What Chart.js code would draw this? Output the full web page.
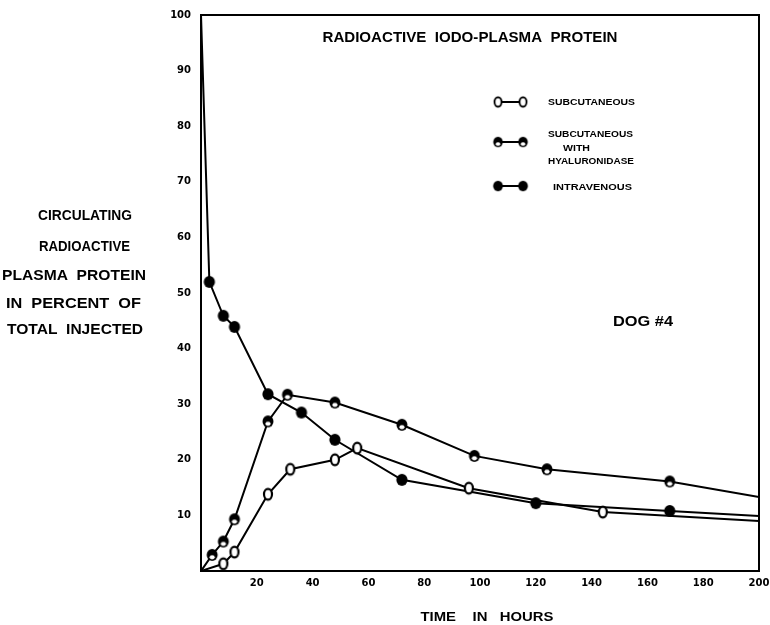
<!DOCTYPE html>
<html>
<head>
<meta charset="utf-8">
<script src="https://cdn.jsdelivr.net/npm/chart.js@4.4.0/dist/chart.umd.min.js"></script>
<style>
  html, body { margin: 0; padding: 0; background: #fff; }
  canvas { display: block; }
</style>
</head>
<body>
<canvas id="chart" width="770" height="625"></canvas>
<script>
// values: time in hours, percent of injected dose
const timeSubcut = [0, 8, 12, 24, 32, 48, 56, 96, 144, 200];
const pctSubcut  = [0, 1.3, 3.4, 13.8, 18.3, 20.0, 22.1, 14.9, 10.6, 9.0];

const timeHyal = [0, 4, 8, 12, 24, 31, 48, 72, 98, 124, 168, 200];
const pctHyal  = [0, 2.9, 5.3, 9.3, 26.9, 31.7, 30.3, 26.3, 20.7, 18.3, 16.1, 13.3];

const timeIV = [0, 3, 8, 12, 24, 36, 48, 72, 120, 168, 200];
const pctIV  = [100, 52.0, 45.9, 43.9, 31.8, 28.5, 23.6, 16.4, 12.2, 10.8, 9.9];

const xTicks = [20, 40, 60, 80, 100, 120, 140, 160, 180, 200];
const yTicks = [10, 20, 30, 40, 50, 60, 70, 80, 90, 100];

function marker(kind) {
  const c = document.createElement('canvas');
  c.width = 16; c.height = 16;
  const g = c.getContext('2d');
  g.beginPath();
  if (kind === 'open') {
    g.ellipse(8, 8, 4, 5.3, 0, 0, Math.PI * 2);
    g.fillStyle = '#fff'; g.fill();
    g.lineWidth = 2.2; g.strokeStyle = '#000'; g.stroke();
  } else if (kind === 'half') {
    g.ellipse(8, 8, 5.5, 6, 0, 0, Math.PI * 2);
    g.fillStyle = '#000'; g.fill();
    g.beginPath();
    g.ellipse(8, 10.3, 2.6, 2.1, 0, 0, Math.PI * 2);
    g.fillStyle = '#fff'; g.fill();
  } else {
    g.ellipse(8, 8, 5.6, 6, 0, 0, Math.PI * 2);
    g.fillStyle = '#000'; g.fill();
  }
  return c;
}

const mOpen = marker('open');
const mHalf = marker('half');
const mFull = marker('full');

function pts(xs, ys) { return xs.map((x, i) => ({x: x, y: ys[i]})); }
// no marker at the origin / the 100% start / the line run-out at the right edge
function radii(xs) { return xs.map(x => (x === 0 || x === 200) ? 0 : 6); }

function fitText(ctx, str, cx, cy, w, h) {
  ctx.save();
  ctx.font = 'bold 20px "Liberation Sans"';
  const mw = ctx.measureText(str).width;
  ctx.translate(cx, cy + h / 2);
  ctx.scale(w / mw, h / 14.3);
  ctx.textAlign = 'center';
  ctx.textBaseline = 'alphabetic';
  ctx.fillStyle = '#000';
  ctx.fillText(str, 0, 0);
  ctx.restore();
}

function legendRow(ctx, img, y) {
  ctx.save();
  ctx.strokeStyle = '#000';
  ctx.lineWidth = 2;
  ctx.beginPath();
  ctx.moveTo(498, y); ctx.lineTo(523, y);
  ctx.stroke();
  ctx.drawImage(img, 498 - 7, y - 7, 14, 14);
  ctx.drawImage(img, 523 - 7, y - 7, 14, 14);
  ctx.restore();
}

const decor = {
  id: 'decor',
  beforeDraw(chart) {
    const ctx = chart.ctx;
    ctx.save();
    ctx.fillStyle = '#fff';
    ctx.fillRect(0, 0, chart.width, chart.height);
    ctx.restore();
  },
  afterDraw(chart) {
    const ctx = chart.ctx;
    const a = chart.chartArea;
    // top and right edges of the frame
    ctx.save();
    ctx.strokeStyle = '#000';
    ctx.lineWidth = 2;
    ctx.beginPath();
    ctx.moveTo(a.left, a.top); ctx.lineTo(a.right, a.top); ctx.lineTo(a.right, a.bottom);
    ctx.stroke();
    ctx.restore();

    fitText(ctx, 'RADIOACTIVE  IODO-PLASMA  PROTEIN', 470, 37, 295, 10);

    fitText(ctx, 'CIRCULATING', 85, 215, 94, 10);
    fitText(ctx, 'RADIOACTIVE', 84.5, 246, 91, 10);
    fitText(ctx, 'PLASMA  PROTEIN', 74, 275, 144, 10);
    fitText(ctx, 'IN  PERCENT  OF', 73.5, 303, 135, 10);
    fitText(ctx, 'TOTAL  INJECTED', 75, 329, 136, 10);

    fitText(ctx, 'TIME    IN   HOURS', 487, 616, 133, 9.5);
    fitText(ctx, 'DOG #4', 643, 320, 60, 11);

    legendRow(ctx, mOpen, 102);
    legendRow(ctx, mHalf, 142);
    legendRow(ctx, mFull, 186);
    fitText(ctx, 'SUBCUTANEOUS', 591.5, 101, 87, 7);
    fitText(ctx, 'SUBCUTANEOUS', 590.5, 133, 85, 7);
    fitText(ctx, 'WITH', 576.5, 147, 27, 7);
    fitText(ctx, 'HYALURONIDASE', 591, 160, 86, 7);
    fitText(ctx, 'INTRAVENOUS', 592.5, 186, 79, 7);
  }
};

const tickFont = {family: 'DejaVu Sans', weight: 'bold', size: 10};

new Chart(document.getElementById('chart'), {
  type: 'line',
  data: {
    datasets: [{
      label: 'SUBCUTANEOUS',
      data: pts(timeSubcut, pctSubcut),
      pointStyle: mOpen,
      pointRadius: radii(timeSubcut),
    }, {
      label: 'SUBCUTANEOUS WITH HYALURONIDASE',
      data: pts(timeHyal, pctHyal),
      pointStyle: mHalf,
      pointRadius: radii(timeHyal),
    }, {
      label: 'INTRAVENOUS',
      data: pts(timeIV, pctIV),
      pointStyle: mFull,
      pointRadius: radii(timeIV),
    }]
  },
  options: {
    responsive: false,
    animation: false,
    devicePixelRatio: 1,
    layout: {padding: {top: 15, right: 11, left: 0, bottom: 0}},
    elements: {
      line: {borderColor: '#000', borderWidth: 2, tension: 0, fill: false},
      point: {hoverRadius: 6}
    },
    plugins: {legend: {display: false}, tooltip: {enabled: false}},
    scales: {
      x: {
        type: 'linear', min: 0, max: 200,
        afterBuildTicks: s => { s.ticks = xTicks.map(v => ({value: v})); },
        afterFit: s => { s.height = 54; s.paddingRight = 0; s.paddingLeft = 0; },
        grid: {display: false, drawTicks: false},
        border: {display: true, color: '#000', width: 2},
        ticks: {padding: 6, color: '#000', font: tickFont, maxRotation: 0, autoSkip: false}
      },
      y: {
        type: 'linear', min: 0, max: 100,
        afterBuildTicks: s => { s.ticks = yTicks.map(v => ({value: v})); },
        afterFit: s => { s.width = 201; s.paddingTop = 0; s.paddingBottom = 0; },
        grid: {display: false, drawTicks: false},
        border: {display: true, color: '#000', width: 2},
        ticks: {padding: 10, color: '#000', font: tickFont, autoSkip: false}
      }
    }
  },
  plugins: [decor]
});
</script>
</body>
</html>
